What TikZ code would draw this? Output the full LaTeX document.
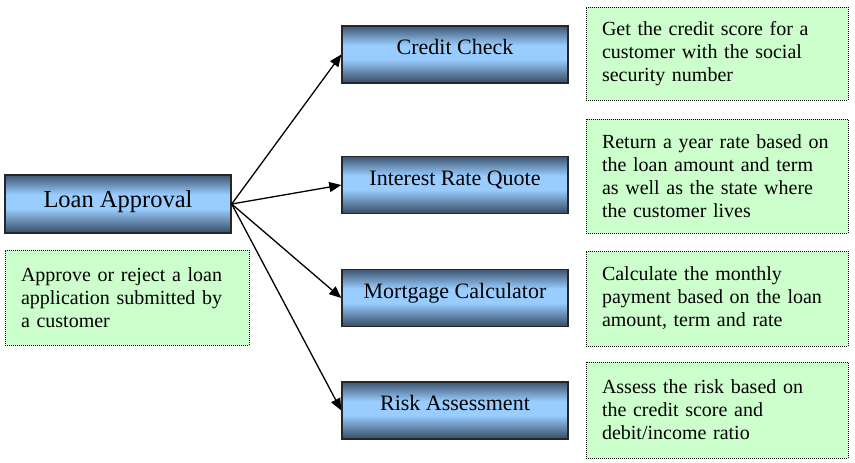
\documentclass[tikz,border=0pt]{standalone}
\usepackage{fontspec}
\setmainfont{Liberation Serif}
\usetikzlibrary{arrows.meta}
\definecolor{bdtop}{HTML}{3D5672}
\definecolor{bdbot}{HTML}{354B63}
\definecolor{blight}{HTML}{9ACDFF}
\definecolor{gfill}{HTML}{CCFFCC}
\pgfdeclareverticalshading{bluebar}{100bp}{color(0bp)=(bdbot); color(25bp)=(bdbot); color(46bp)=(blight); color(58bp)=(blight); color(75bp)=(bdtop); color(100bp)=(bdtop)}
\begin{document}
\begin{tikzpicture}[x=1pt,y=-1pt,
  bluebox/.style={draw=black!85, line width=1.4pt, shading=bluebar, rectangle,
    minimum width=226pt, minimum height=57pt, inner sep=0pt,
    font=\fontsize{22}{26}\selectfont, text height=12pt, text depth=12pt},
  loanbox/.style={bluebox, minimum height=58pt,
    font=\fontsize{24.5}{28}\selectfont, text height=16pt, text depth=10pt},
  notebox/.style={draw=black, line width=1pt, dash pattern=on 1pt off 1pt,
    fill=gfill, rectangle, inner xsep=16pt, inner ysep=0pt, align=left,
    font=\fontsize{20}{23}\selectfont},
  conn/.style={line width=1.3pt, -{Triangle[length=12pt,width=10pt]}}]
\useasboundingbox (0,0) rectangle (855,463);
\fill[white] (0,0) rectangle (855,463);

\node[loanbox] (loan) at (118,204) {Loan Approval};
\node[notebox, text width=212pt, minimum width=244pt, minimum height=95pt] (n0) at (127,297.5)
  {Approve or reject a loan\\application submitted by\\a customer};

\node[bluebox] (b1) at (455,54.5) {Credit Check};
\node[bluebox] (b2) at (455,185) {Interest Rate Quote};
\node[bluebox] (b3) at (455,298) {Mortgage Calculator};
\node[bluebox] (b4) at (455,410.5) {Risk Assessment};

\node[notebox, text width=230pt, minimum width=262pt, minimum height=93pt] (n1) at (717,53.5)
  {Get the credit score for a\\customer with the social\\security number};
\node[notebox, text width=230pt, minimum width=262pt, minimum height=114pt] (n2) at (717,176)
  {Return a year rate based on\\the loan amount and term\\as well as the state where\\the customer lives};
\node[notebox, text width=230pt, minimum width=262pt, minimum height=95pt] (n3) at (717,298.5)
  {Calculate the monthly\\payment based on the loan\\amount, term and rate};
\node[notebox, text width=230pt, minimum width=262pt, minimum height=96pt] (n4) at (717,410)
  {Assess the risk based on\\the credit score and\\debit/income ratio};

\draw[conn] (loan.east) -- (b1.west);
\draw[conn] (loan.east) -- (b2.west);
\draw[conn] (loan.east) -- (b3.west);
\draw[conn] (loan.east) -- (b4.west);
\end{tikzpicture}
\end{document}
